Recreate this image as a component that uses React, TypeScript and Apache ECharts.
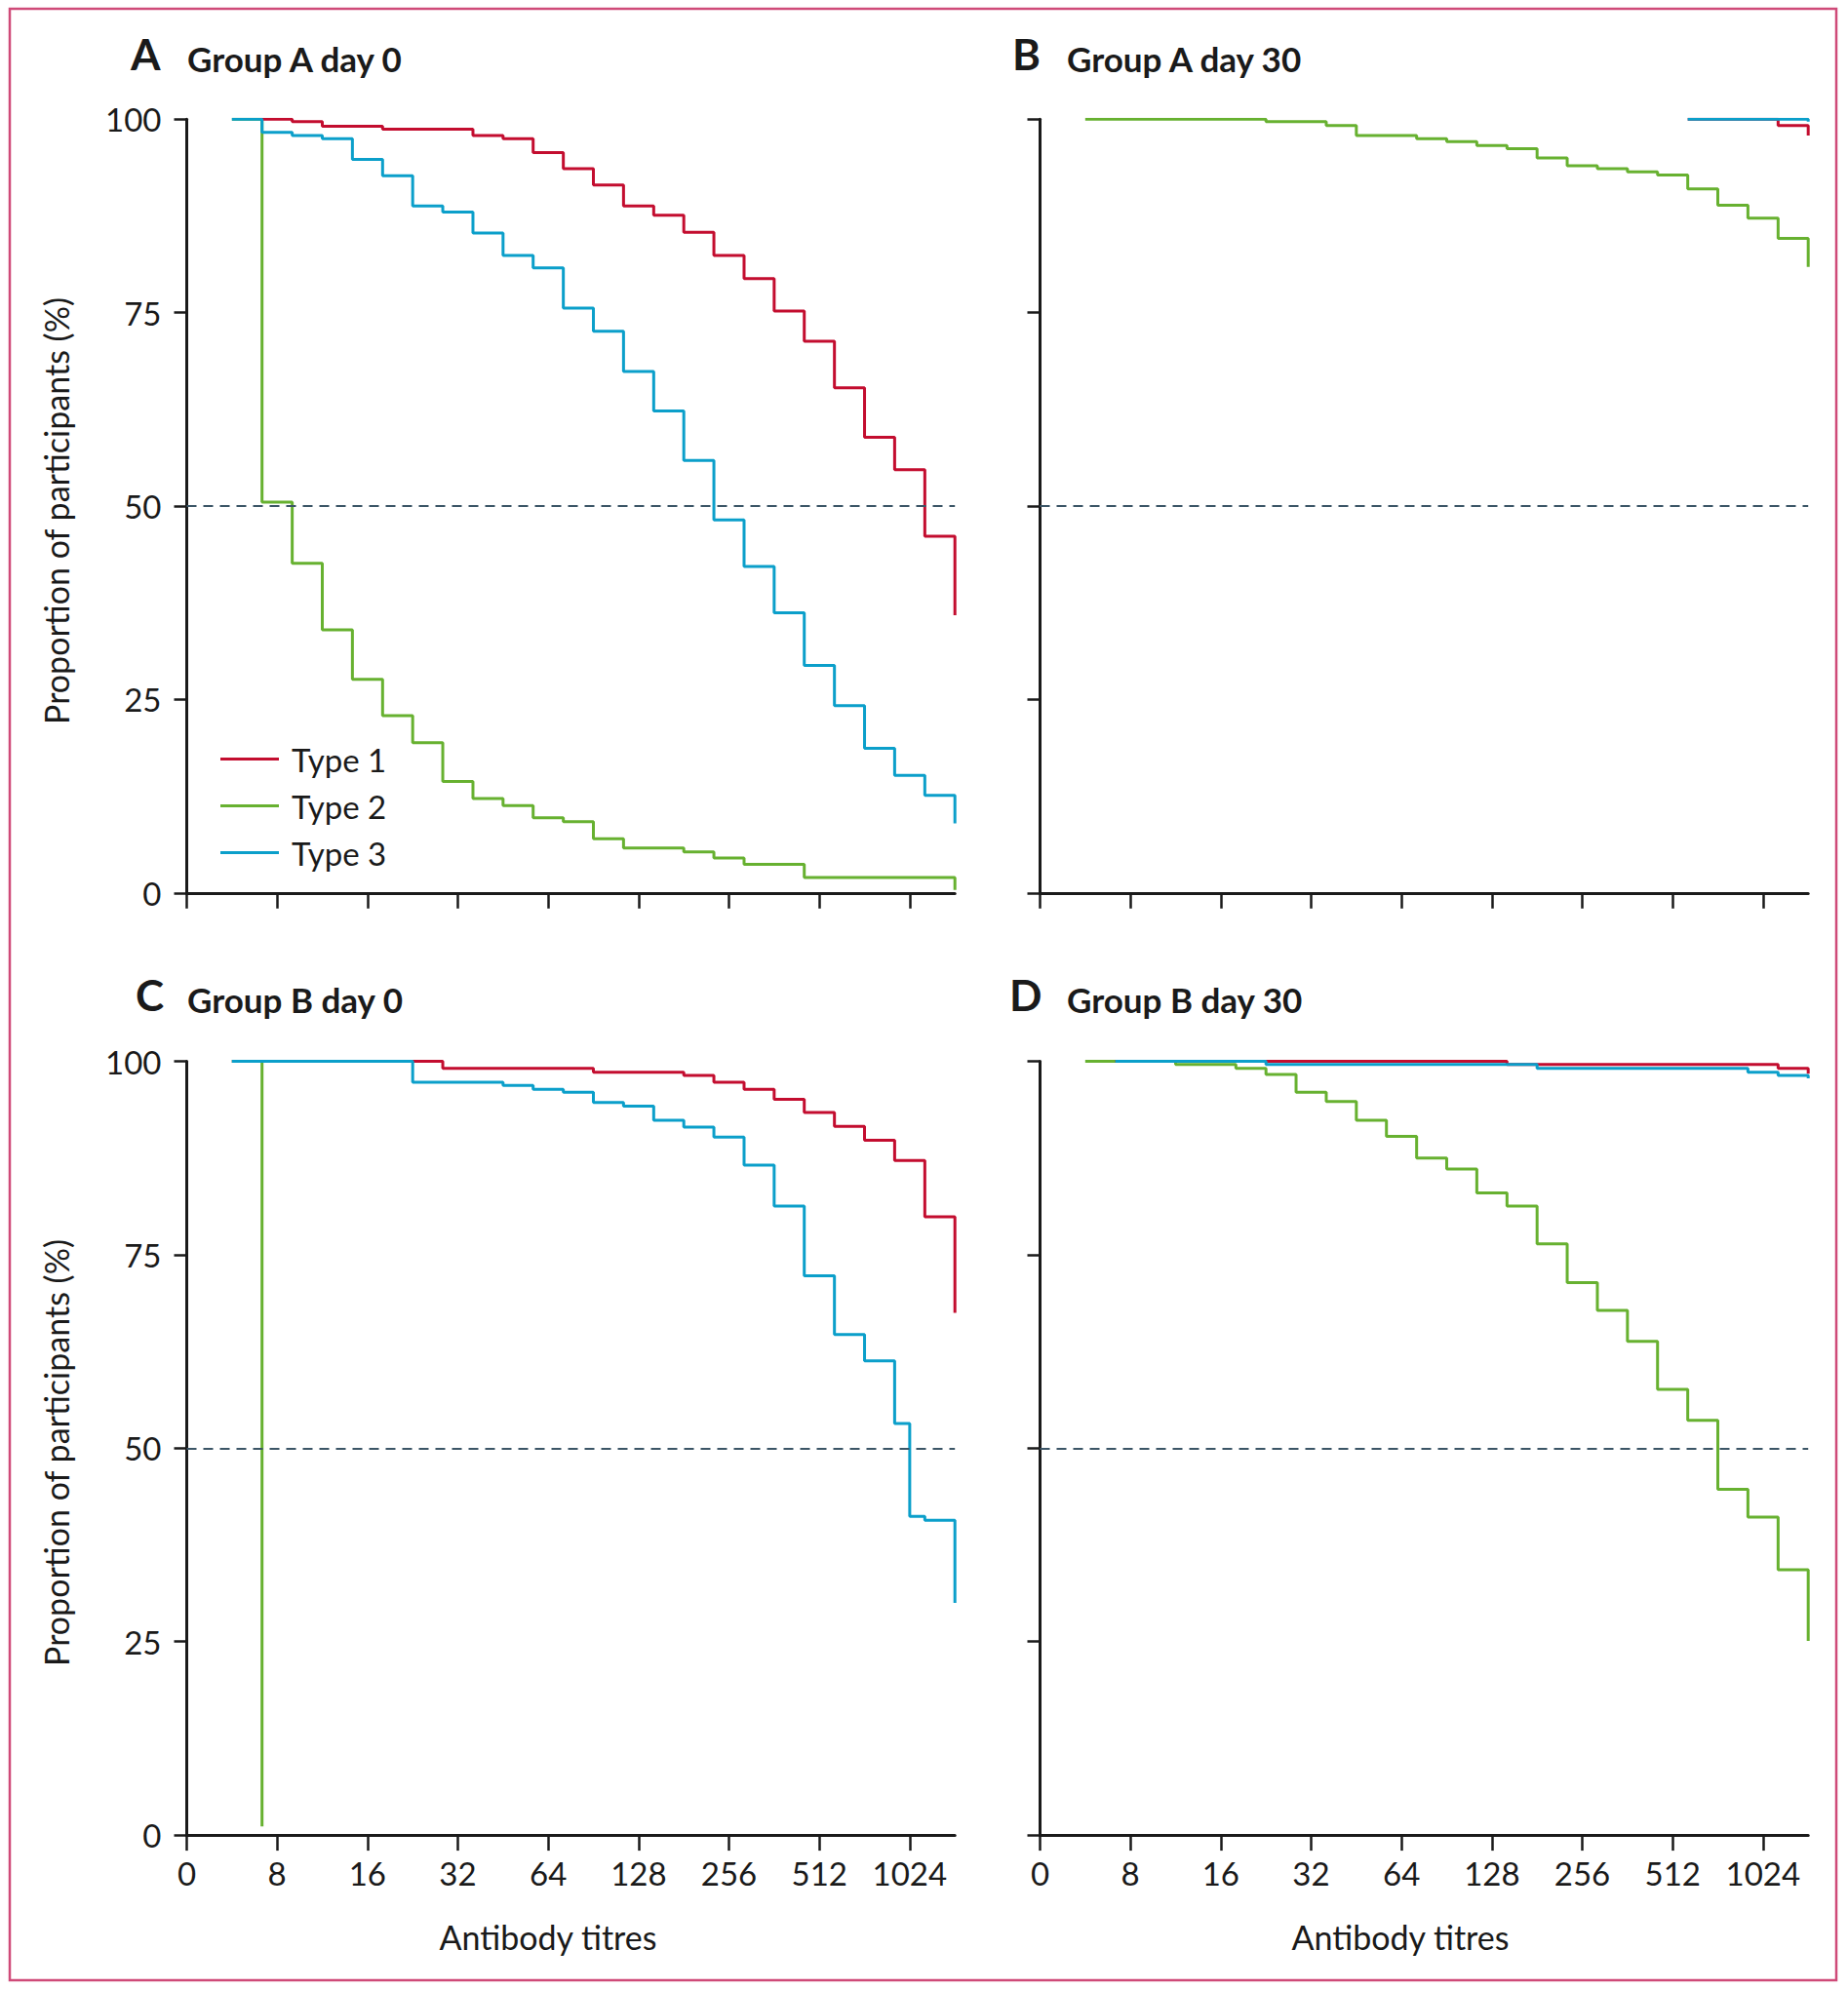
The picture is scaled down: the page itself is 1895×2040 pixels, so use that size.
import React, { useEffect, useRef } from "react";
import * as echarts from "echarts";

// ---------- data ----------
const xTickValues = [0, 1, 2, 3, 4, 5, 6, 7, 8];
const xTickLabels = ["0", "8", "16", "32", "64", "128", "256", "512", "1024"];
const yTickValues = [0, 25, 50, 75, 100];

// step positions on the (log2) titre axis, in tick units
const stepPositions = [
  0.5, 0.833, 1.167, 1.5, 1.833, 2.167, 2.5, 2.833, 3.167, 3.5, 3.833, 4.167, 4.5,
  4.833, 5.167, 5.5, 5.833, 6.167, 6.5, 6.833, 7.167, 7.5, 7.833, 8.0, 8.167, 8.5,
];

// Panel A: Group A day 0
const aType1 = [null, 100, 99.7, 99.1, 99.1, 98.7, 98.7, 98.7, 97.9, 97.5, 95.7, 93.6, 91.5, 88.8, 87.6, 85.4, 82.4, 79.4, 75.2, 71.3, 65.3, 58.9, 54.7, 54.7, 46.1, 35.9];
const aType2 = [100, 50.5, 42.6, 34.0, 27.6, 22.9, 19.4, 14.4, 12.2, 11.3, 9.7, 9.2, 7.0, 5.8, 5.8, 5.3, 4.5, 3.7, 3.7, 2.0, 2.0, 2.0, 2.0, 2.0, 2.0, 0.4];
const aType3 = [100, 98.3, 97.9, 97.5, 94.8, 92.7, 88.8, 88.0, 85.3, 82.4, 80.8, 75.6, 72.6, 67.4, 62.3, 55.9, 48.2, 42.2, 36.2, 29.4, 24.2, 18.7, 15.2, 15.2, 12.6, 9.0];

// Panel B: Group A day 30
const bType1 = [null, null, null, null, null, null, null, null, null, null, null, null, null, null, null, null, null, null, null, null, 100, 100, 100, 100, 99.2, 97.9];
const bType2 = [100, 100, 100, 100, 100, 100, 99.7, 99.7, 99.2, 97.9, 97.9, 97.5, 97.1, 96.6, 96.2, 95.0, 94.0, 93.6, 93.2, 92.8, 91.0, 88.9, 87.2, 87.2, 84.6, 80.9];
const bType3 = [null, null, null, null, null, null, null, null, null, null, null, null, null, null, null, null, null, null, null, null, 100, 100, 100, 100, 100, 99.7];

// Panel C: Group B day 0
const cType1 = [100, 100, 100, 100, 100, 100, 100, 99.1, 99.1, 99.1, 99.1, 99.1, 98.6, 98.6, 98.6, 98.2, 97.3, 96.4, 95.1, 93.4, 91.6, 89.8, 87.2, 87.2, 79.9, 67.5];
const cType2 = [100, 1.1, null, null, null, null, null, null, null, null, null, null, null, null, null, null, null, null, null, null, null, null, null, null, null, null];
const cType3 = [100, 100, 100, 100, 100, 100, 97.3, 97.3, 97.3, 96.9, 96.4, 96.0, 94.7, 94.2, 92.4, 91.5, 90.2, 86.6, 81.3, 72.3, 64.7, 61.3, 53.2, 41.2, 40.7, 30.0];

// Panel D: Group B day 30
const dType1 = [null, 100, 100, 100, 100, 100, 100, 100, 100, 100, 100, 100, 100, 100, 99.6, 99.6, 99.6, 99.6, 99.6, 99.6, 99.6, 99.6, 99.6, 99.6, 99.1, 98.4];
const dType2 = [100, 100, 100, 99.6, 99.6, 99.1, 98.3, 96.0, 94.8, 92.4, 90.3, 87.5, 86.1, 83.0, 81.3, 76.4, 71.4, 67.8, 63.8, 57.6, 53.6, 44.7, 41.1, 41.1, 34.3, 25.1];
const dType3 = [null, 100, 100, 100, 100, 100, 99.6, 99.6, 99.6, 99.6, 99.6, 99.6, 99.6, 99.6, 99.6, 99.1, 99.1, 99.1, 99.1, 99.1, 99.1, 99.1, 98.6, 98.6, 98.2, 97.8];

const seriesNames = ["Type 1", "Type 2", "Type 3"];
const panelLetters = ["A", "B", "C", "D"];
const panelTitles = ["Group A day 0", "Group A day 30", "Group B day 0", "Group B day 30"];
const yAxisName = "Proportion of participants (%)";
const xAxisName = "Antibody titres";

// ---------- styles / layout ----------
const FONT = "Lato, 'Noto Sans', sans-serif";
const TEXT = "#1a1a1a";
const RED = "#c30d2f";
const GREEN = "#67b130";
const BLUE = "#0b9fca";
const DASH = "#3b5566";

const GRID_W = 787.7;
const GRID_H = 793.5;
const panels = [
  { left: 191.5, top: 122.3, yLabels: true, xLabels: false, t1: aType1, t2: aType2, t3: aType3 },
  { left: 1066.5, top: 122.3, yLabels: false, xLabels: false, t1: bType1, t2: bType2, t3: bType3 },
  { left: 191.5, top: 1088.6, yLabels: true, xLabels: true, t1: cType1, t2: cType2, t3: cType3 },
  { left: 1066.5, top: 1088.6, yLabels: false, xLabels: true, t1: dType1, t2: dType2, t3: dType3 },
];

function toPoints(vals: (number | null)[]) {
  const pts: number[][] = [];
  stepPositions.forEach((x, i) => {
    const v = vals[i];
    if (v !== null && v !== undefined) pts.push([x, v]);
  });
  return pts;
}

export default function App() {
  const ref = useRef<HTMLDivElement>(null);

  useEffect(() => {
    if (!ref.current) return;
    const chart = echarts.init(ref.current, undefined, { renderer: "svg" });

    const grid = panels.map((p) => ({ left: p.left, top: p.top, width: GRID_W, height: GRID_H, containLabel: false }));

    const xAxis = panels.map((p, i) => ({
      type: "value",
      gridIndex: i,
      min: 0,
      max: 8.5,
      axisLine: { show: true, onZero: false, lineStyle: { color: TEXT, width: 3 } },
      axisTick: { show: true, customValues: xTickValues, length: 16, lineStyle: { color: TEXT, width: 2.5 } },
      axisLabel: {
        show: p.xLabels,
        customValues: xTickValues,
        formatter: (v: number) => xTickLabels[Math.round(v)],
        fontSize: 33,
        fontFamily: FONT,
        color: TEXT,
        margin: 22,
      },
      splitLine: { show: false },
    }));

    const yAxis = panels.map((p, i) => ({
      type: "value",
      gridIndex: i,
      min: 0,
      max: 100,
      interval: 25,
      axisLine: { show: true, onZero: false, lineStyle: { color: TEXT, width: 3 } },
      axisTick: { show: true, customValues: yTickValues, length: 13, lineStyle: { color: TEXT, width: 2.5 } },
      axisLabel: {
        show: p.yLabels,
        customValues: yTickValues,
        fontSize: 33,
        fontFamily: FONT,
        color: TEXT,
        margin: 26,
      },
      splitLine: { show: false },
    }));

    const series: any[] = [];
    panels.forEach((p, i) => {
      const common = {
        type: "line",
        xAxisIndex: i,
        yAxisIndex: i,
        step: "end",
        symbol: "none",
        showSymbol: false,
        connectNulls: false,
        silent: true,
      };
      series.push({
        ...common,
        name: seriesNames[1],
        data: toPoints(p.t2),
        lineStyle: { color: GREEN, width: 3 },
        itemStyle: { color: GREEN },
        z: 2,
        markLine: {
          silent: true,
          symbol: "none",
          label: { show: false },
          lineStyle: { type: [10, 7], color: DASH, width: 2.2 },
          data: [{ yAxis: 50 }],
        },
      });
      series.push({
        ...common,
        name: seriesNames[0],
        data: toPoints(p.t1),
        lineStyle: { color: RED, width: 3 },
        itemStyle: { color: RED },
        z: 3,
      });
      series.push({
        ...common,
        name: seriesNames[2],
        data: toPoints(p.t3),
        lineStyle: { color: BLUE, width: 3 },
        itemStyle: { color: BLUE },
        z: 4,
      });
    });

    const titleEls: any[] = [];
    const letterPos = [
      [134, 77],
      [1038, 77],
      [139, 1042],
      [1035, 1042],
    ];
    const titlePos = [
      [192, 77],
      [1094, 77],
      [192, 1042],
      [1094, 1042],
    ];
    panels.forEach((_, i) => {
      titleEls.push({
        type: "text",
        x: letterPos[i][0],
        y: letterPos[i][1],
        style: {
          text: panelLetters[i],
          fontSize: 44,
          fontWeight: "bold",
          fontFamily: FONT,
          fill: TEXT,
          textAlign: "left",
          textVerticalAlign: "bottom",
        },
      });
      titleEls.push({
        type: "text",
        x: titlePos[i][0],
        y: titlePos[i][1],
        style: {
          text: panelTitles[i],
          fontSize: 35,
          fontWeight: "bold",
          fontFamily: FONT,
          fill: TEXT,
          textAlign: "left",
          textVerticalAlign: "bottom",
        },
      });
    });

    const nameEls: any[] = [
      {
        type: "text",
        x: 57,
        y: 524,
        rotation: Math.PI / 2,
        style: { text: yAxisName, fontSize: 34, fontFamily: FONT, fill: TEXT, textAlign: "center", textVerticalAlign: "middle" },
      },
      {
        type: "text",
        x: 57,
        y: 1490,
        rotation: Math.PI / 2,
        style: { text: yAxisName, fontSize: 34, fontFamily: FONT, fill: TEXT, textAlign: "center", textVerticalAlign: "middle" },
      },
      {
        type: "text",
        x: 562,
        y: 1986,
        style: { text: xAxisName, fontSize: 34, fontFamily: FONT, fill: TEXT, textAlign: "center", textVerticalAlign: "middle" },
      },
      {
        type: "text",
        x: 1436,
        y: 1986,
        style: { text: xAxisName, fontSize: 34, fontFamily: FONT, fill: TEXT, textAlign: "center", textVerticalAlign: "middle" },
      },
    ];

    chart.setOption({
      animation: false,
      backgroundColor: "#ffffff",
      textStyle: { fontFamily: FONT },
      grid,
      xAxis,
      yAxis,
      legend: {
        data: seriesNames,
        orient: "vertical",
        left: 221,
        top: 757,
        icon: "rect",
        itemWidth: 60,
        itemHeight: 3,
        itemGap: 15,
        selectedMode: false,
        textStyle: { fontSize: 33, fontFamily: FONT, color: TEXT, padding: [0, 0, 0, 8] },
      },
      series,
      graphic: [
        {
          type: "rect",
          shape: { x: 10, y: 9, width: 1873, height: 2022 },
          style: { fill: "none", stroke: "#cf4a78", lineWidth: 2.5 },
          silent: true,
        },
        ...titleEls,
        ...nameEls,
      ],
    });

    return () => {
      chart.dispose();
    };
  }, []);

  return (
    <div
      ref={ref}
      style={{ position: "absolute", left: 0, top: 0, width: 1895, height: 2040, background: "#fff" }}
    />
  );
}
